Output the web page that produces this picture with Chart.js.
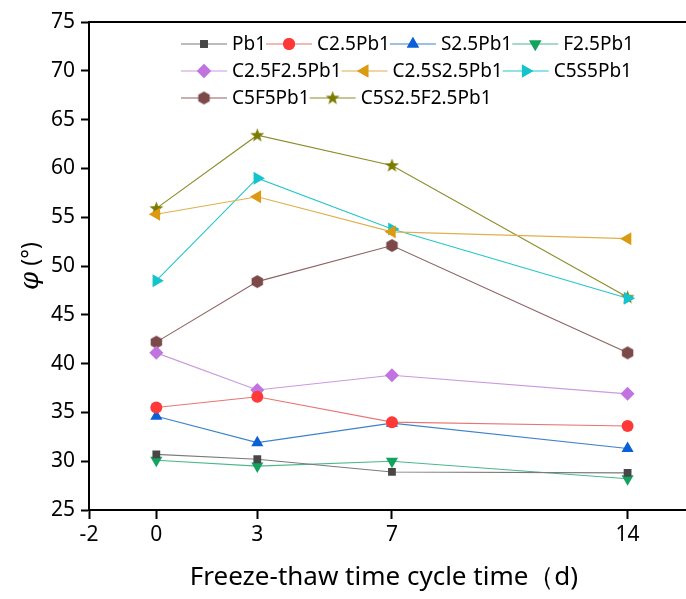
<!DOCTYPE html>
<html>
<head>
<meta charset="utf-8">
<script src="https://cdn.jsdelivr.net/npm/chart.js@4.4.0/dist/chart.umd.min.js"></script>
<style>
  html, body { margin: 0; padding: 0; background: #fff; overflow: hidden; }
  #wrap { width: 686px; height: 599px; position: relative; overflow: hidden; }
</style>
</head>
<body>
<div id="wrap"><canvas id="myChart" width="694" height="599"></canvas></div>
<script>
// freeze-thaw days
var days = [0, 3, 7, 14];
var xTicks = [-2, 0, 3, 7, 14];

var names = ["Pb1", "C2.5Pb1", "S2.5Pb1", "F2.5Pb1", "C2.5F2.5Pb1",
             "C2.5S2.5Pb1", "C5S5Pb1", "C5F5Pb1", "C5S2.5F2.5Pb1"];

var pb1       = [30.7, 30.2, 28.9, 28.8];
var c25pb1    = [35.5, 36.6, 34.0, 33.6];
var s25pb1    = [34.6, 31.9, 33.9, 31.3];
var f25pb1    = [30.1, 29.5, 30.0, 28.2];
var c25f25pb1 = [41.1, 37.3, 38.8, 36.9];
var c25s25pb1 = [55.3, 57.1, 53.5, 52.8];
var c5s5pb1   = [48.5, 59.0, 53.8, 46.7];
var c5f5pb1   = [42.2, 48.4, 52.1, 41.1];
var c5s25f25  = [55.9, 63.4, 60.3, 46.8];

var series = [pb1, c25pb1, s25pb1, f25pb1, c25f25pb1, c25s25pb1, c5s5pb1, c5f5pb1, c5s25f25];

var markColors = ["#474747", "#ff3838", "#0b60d8", "#12a35e", "#c173e0",
                  "#dc9a12", "#14c4cc", "#7c4848", "#7b7b00"];
var lineColors = ["#7a7a7a", "#e87575", "#3d82c8", "#4cb88a", "#c99ade",
                  "#deb04e", "#27c6cc", "#8e6262", "#8d8d2a"];

// custom markers (hexagon + filled star)
function makeMarker(kind, color) {
    var c = document.createElement("canvas");
    c.width = 15; c.height = 15;
    var g = c.getContext("2d");
    g.fillStyle = color;
    g.beginPath();
    if (kind === "hex") {
        for (var k = 0; k < 6; k++) {
            var a = Math.PI / 6 + k * Math.PI / 3;
            var px = 7.5 + 6.6 * Math.cos(a), py = 7.5 + 6.6 * Math.sin(a);
            if (k === 0) g.moveTo(px, py); else g.lineTo(px, py);
        }
    } else {
        for (var k = 0; k < 10; k++) {
            var r = (k % 2 === 0) ? 7.3 : 3.0;
            var a = -Math.PI / 2 + k * Math.PI / 5;
            var px = 7.5 + r * Math.cos(a), py = 7.8 + r * Math.sin(a);
            if (k === 0) g.moveTo(px, py); else g.lineTo(px, py);
        }
    }
    g.closePath();
    g.fill();
    return c;
}

var styles = ["rect", "circle", "triangle", "triangle", "rectRot",
              "triangle", "triangle", makeMarker("hex", markColors[7]), makeMarker("star", markColors[8])];
var rotations = [0, 0, 0, 180, 0, 270, 90, 0, 0];
var radii = [5.5, 6, 7, 7, 7, 7.5, 7.5, 6, 6];

var datasets = names.map(function (n, i) {
    return {
        label: n,
        data: days.map(function (d, j) { return { x: d, y: series[i][j] }; }),
        borderColor: lineColors[i],
        backgroundColor: markColors[i],
        borderWidth: 1.1,
        pointStyle: styles[i],
        rotation: rotations[i],
        pointRadius: radii[i],
        pointHoverRadius: radii[i],
        pointBorderWidth: 0,
        pointBackgroundColor: markColors[i],
        pointBorderColor: markColors[i],
        tension: 0
    };
});

var FONT = "'Noto Sans', 'DejaVu Sans', sans-serif";

var extras = {
    id: "extras",
    afterDraw: function (chart) {
        var ctx = chart.ctx, a = chart.chartArea;
        ctx.save();
        // top frame line
        ctx.strokeStyle = "#000";
        ctx.lineWidth = 2;
        ctx.beginPath();
        ctx.moveTo(a.left - 1, a.top);
        ctx.lineTo(a.right, a.top);
        ctx.stroke();

        // legend
        ctx.font = "19px " + FONT;
        ctx.textBaseline = "middle";
        var x0 = 181, x = x0, y = 44, maxX = 650, lineLen = 46;
        chart.data.datasets.forEach(function (ds, i) {
            var w = lineLen + 5 + ctx.measureText(ds.label).width;
            if (x + w > maxX) { x = x0; y += 27; }
            ctx.strokeStyle = lineColors[i];
            ctx.lineWidth = 1.1;
            ctx.beginPath();
            ctx.moveTo(x, y);
            ctx.lineTo(x + lineLen, y);
            ctx.stroke();
            ctx.fillStyle = markColors[i];
            Chart.helpers.drawPoint(ctx, {
                pointStyle: styles[i], rotation: rotations[i], radius: radii[i], borderWidth: 0
            }, x + lineLen / 2, y);
            ctx.fill();
            ctx.fillStyle = "#000";
            ctx.fillText(ds.label, x + lineLen + 5, y + 1);
            x += w;
        });

        // axis titles
        ctx.fillStyle = "#000";
        ctx.textAlign = "center";
        ctx.textBaseline = "middle";
        ctx.font = "26px " + FONT;
        ctx.fillText("Freeze-thaw time cycle time\uFF08d)", 384, 578);

        ctx.translate(31, 266);
        ctx.rotate(-Math.PI / 2);
        ctx.textAlign = "left";
        ctx.font = "italic 26px 'DejaVu Serif', serif";
        var phi = "\u03C6";
        var rest = " (\u00B0)";
        var w1 = ctx.measureText(phi).width;
        ctx.font = "23px " + FONT;
        var w2 = ctx.measureText(rest).width;
        var sx = -(w1 + w2) / 2;
        ctx.font = "italic 26px 'DejaVu Serif', serif";
        ctx.fillText(phi, sx, 0);
        ctx.font = "23px " + FONT;
        ctx.fillText(rest, sx + w1, 0);
        ctx.restore();
    }
};

new Chart(document.getElementById("myChart"), {
    type: "line",
    data: { datasets: datasets },
    options: {
        responsive: false,
        animation: false,
        events: [],
        layout: { padding: { top: 22, right: 0, left: 0, bottom: 0 } },
        plugins: { legend: { display: false }, tooltip: { enabled: false } },
        scales: {
            x: {
                type: "linear",
                min: -2,
                max: 15.75,
                afterBuildTicks: function (scale) {
                    scale.ticks = xTicks.map(function (v) { return { value: v }; });
                },
                afterFit: function (scale) { scale.height = 89; },
                grid: { drawOnChartArea: false, drawTicks: true, tickLength: 9, tickColor: "#000", tickWidth: 2 },
                border: { display: true, color: "#000", width: 2 },
                ticks: { color: "#000", font: { family: FONT, size: 21 }, padding: 3, maxRotation: 0 }
            },
            y: {
                min: 25,
                max: 75,
                ticks: { stepSize: 5, color: "#000", font: { family: FONT, size: 21 }, padding: 6 },
                afterFit: function (scale) { scale.width = 89; },
                grid: { drawOnChartArea: false, drawTicks: true, tickLength: 8, tickColor: "#000", tickWidth: 2 },
                border: { display: true, color: "#000", width: 2 }
            }
        }
    },
    plugins: [extras]
});
</script>
</body>
</html>
